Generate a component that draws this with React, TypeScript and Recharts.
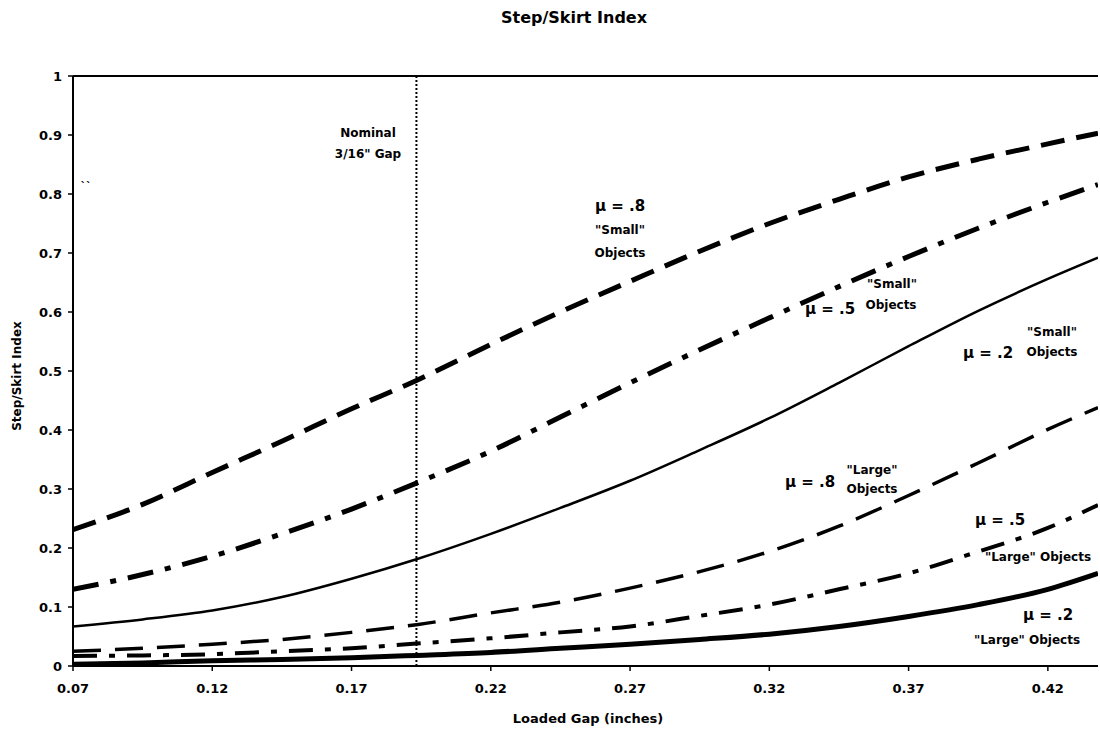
import { LineChart, Line, XAxis, YAxis, ReferenceLine } from "recharts";

// loaded gap (inches) sample points
const gap = [0.07, 0.095, 0.12, 0.145, 0.17, 0.1933, 0.22, 0.245, 0.27, 0.295, 0.32, 0.345, 0.37, 0.395, 0.42, 0.438];

const smallMu8 = [0.231, 0.274, 0.328, 0.381, 0.436, 0.484, 0.545, 0.6, 0.652, 0.703, 0.75, 0.791, 0.829, 0.859, 0.885, 0.903];
const smallMu5 = [0.13, 0.155, 0.186, 0.224, 0.266, 0.31, 0.364, 0.422, 0.48, 0.536, 0.59, 0.643, 0.694, 0.742, 0.786, 0.816];
const smallMu2 = [0.067, 0.079, 0.094, 0.117, 0.148, 0.181, 0.224, 0.268, 0.314, 0.366, 0.42, 0.48, 0.542, 0.602, 0.656, 0.692];
const largeMu8 = [0.025, 0.03, 0.037, 0.045, 0.057, 0.07, 0.09, 0.108, 0.132, 0.16, 0.194, 0.237, 0.289, 0.344, 0.401, 0.438];
const largeMu5 = [0.017, 0.018, 0.02, 0.025, 0.03, 0.038, 0.047, 0.057, 0.067, 0.085, 0.104, 0.13, 0.157, 0.194, 0.234, 0.273];
const largeMu2 = [0.003, 0.005, 0.009, 0.011, 0.014, 0.018, 0.023, 0.03, 0.037, 0.045, 0.054, 0.067, 0.084, 0.104, 0.13, 0.157];

const xTicks = [0.07, 0.12, 0.17, 0.22, 0.27, 0.32, 0.37, 0.42];
const yTicks = [0, 0.1, 0.2, 0.3, 0.4, 0.5, 0.6, 0.7, 0.8, 0.9, 1];
const nominalGap = 0.1933;

const data = gap.map((g, i) => ({
  gap: g,
  smallMu8: smallMu8[i],
  smallMu5: smallMu5[i],
  smallMu2: smallMu2[i],
  largeMu8: largeMu8[i],
  largeMu5: largeMu5[i],
  largeMu2: largeMu2[i],
}));

const FONT = "'DejaVu Sans', Arial, sans-serif";

// free-floating chart notes, placed in page pixels
const notes = [
  { t: "Nominal", x: 368, y: 133, s: 12 },
  { t: "3/16\" Gap", x: 368, y: 154, s: 12 },
  { t: "\u03bc = .8", x: 620, y: 206, s: 15 },
  { t: "\"Small\"", x: 620, y: 230, s: 12 },
  { t: "Objects", x: 620, y: 253, s: 12 },
  { t: "\"Small\"", x: 892, y: 284, s: 12 },
  { t: "\u03bc = .5", x: 830, y: 309, s: 15 },
  { t: "Objects", x: 891, y: 305, s: 12 },
  { t: "\"Small\"", x: 1052, y: 332, s: 12 },
  { t: "\u03bc = .2", x: 988, y: 353, s: 15 },
  { t: "Objects", x: 1052, y: 352, s: 12 },
  { t: "\"Large\"", x: 872, y: 470, s: 12 },
  { t: "\u03bc = .8", x: 810, y: 482, s: 15 },
  { t: "Objects", x: 872, y: 489, s: 12 },
  { t: "\u03bc = .5", x: 1000, y: 520, s: 15 },
  { t: "\"Large\" Objects", x: 1038, y: 557, s: 12 },
  { t: "\u03bc = .2", x: 1048, y: 615, s: 15 },
  { t: "\"Large\" Objects", x: 1027, y: 640, s: 12 },
  { t: "``", x: 86, y: 186, s: 11 },
];

const tickStyle = { fontSize: 13, fontWeight: 700, fill: "#000", fontFamily: FONT };

export default function App() {
  return (
    <div style={{ position: "absolute", left: 0, top: 0, width: 1100, height: 731, background: "#fff", fontFamily: FONT }}>
      <LineChart width={1100} height={731} data={data} margin={{ top: 76, right: 2, left: 0, bottom: 35 }}>
        <XAxis
          type="number"
          dataKey="gap"
          domain={[0.07, 0.438]}
          ticks={xTicks}
          allowDataOverflow
          tickFormatter={(v: number) => v.toFixed(2)}
          tick={tickStyle}
          tickSize={5}
          tickMargin={13}
          height={30}
          axisLine={{ stroke: "#000", strokeWidth: 2 }}
          tickLine={{ stroke: "#000", strokeWidth: 1.5 }}
        />
        <YAxis
          type="number"
          domain={[0, 1]}
          ticks={yTicks}
          tick={tickStyle}
          tickSize={5}
          tickMargin={6}
          width={73}
          axisLine={{ stroke: "#000", strokeWidth: 2 }}
          tickLine={{ stroke: "#000", strokeWidth: 1.5 }}
        />
        <ReferenceLine y={1} stroke="#000" strokeWidth={2} />
        <ReferenceLine x={nominalGap} stroke="#000" strokeWidth={2} strokeDasharray="2 2" />
        <Line dataKey="smallMu8" type="monotone" stroke="#000" strokeWidth={5} strokeDasharray="24 12" dot={false} activeDot={false} isAnimationActive={false} />
        <Line dataKey="smallMu5" type="monotone" stroke="#000" strokeWidth={5} strokeDasharray="26 12 6 12" dot={false} activeDot={false} isAnimationActive={false} />
        <Line dataKey="smallMu2" type="monotone" stroke="#000" strokeWidth={2.5} dot={false} activeDot={false} isAnimationActive={false} />
        <Line dataKey="largeMu8" type="monotone" stroke="#000" strokeWidth={3.5} strokeDasharray="28 14" dot={false} activeDot={false} isAnimationActive={false} />
        <Line dataKey="largeMu5" type="monotone" stroke="#000" strokeWidth={4} strokeDasharray="24 12 6 12" dot={false} activeDot={false} isAnimationActive={false} />
        <Line dataKey="largeMu2" type="monotone" stroke="#000" strokeWidth={5} dot={false} activeDot={false} isAnimationActive={false} />
      </LineChart>

      <div style={{ position: "absolute", left: 574, top: 18, transform: "translate(-50%,-50%)", fontSize: 16, fontWeight: 700, whiteSpace: "nowrap", lineHeight: 1 }}>
        Step/Skirt Index
      </div>
      <div style={{ position: "absolute", left: 588, top: 718, transform: "translate(-50%,-50%)", fontSize: 13, fontWeight: 700, whiteSpace: "nowrap", lineHeight: 1 }}>
        Loaded Gap (inches)
      </div>
      <div style={{ position: "absolute", left: 17, top: 376, transform: "translate(-50%,-50%) rotate(-90deg)", fontSize: 12, fontWeight: 700, whiteSpace: "nowrap", lineHeight: 1 }}>
        Step/Skirt Index
      </div>
      {notes.map((n, i) => (
        <div
          key={i}
          style={{ position: "absolute", left: n.x, top: n.y, transform: "translate(-50%,-50%)", fontSize: n.s, fontWeight: 700, whiteSpace: "nowrap", lineHeight: 1 }}
        >
          {n.t}
        </div>
      ))}
    </div>
  );
}
